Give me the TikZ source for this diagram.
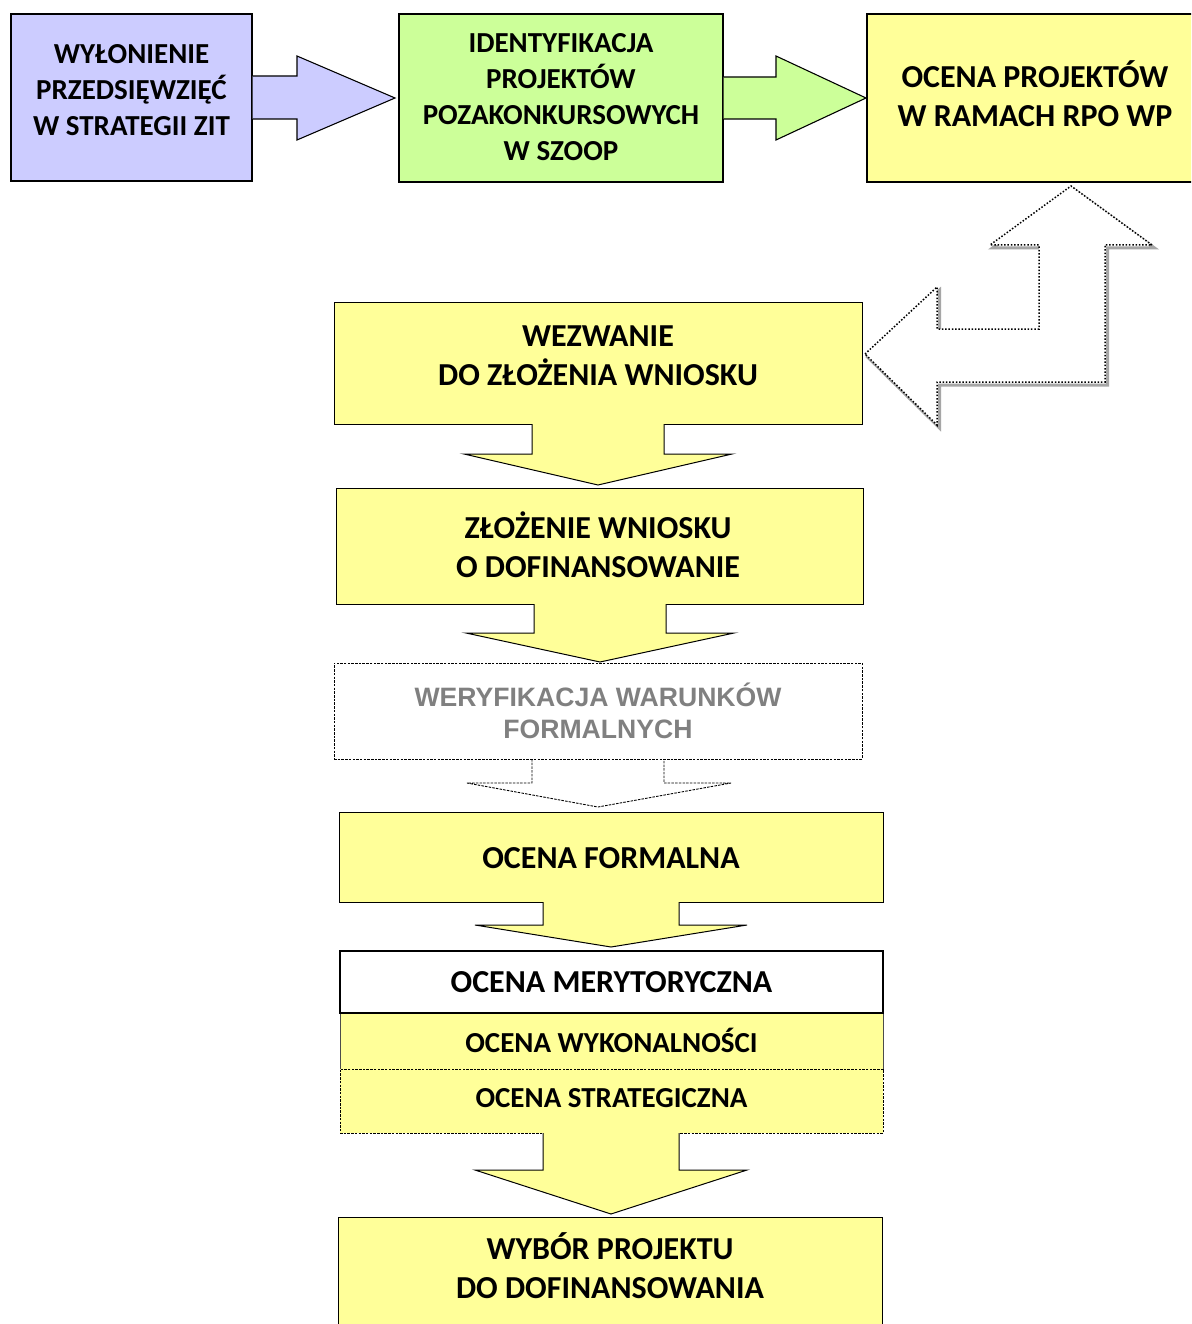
\documentclass[tikz,border=0pt]{standalone}
\usepackage{fontspec}
\setmainfont{Carlito}
\newfontfamily\arialf{Liberation Sans}
\definecolor{cblue}{HTML}{CCCCFF}
\definecolor{cgreen}{HTML}{CCFF99}
\definecolor{cyel}{HTML}{FFFF99}
\definecolor{cgray}{HTML}{808080}
\begin{document}
\begin{tikzpicture}[x=1pt,y=-1pt,
  box/.style={draw=black, line width=1.3pt, inner sep=0pt},
  lbl/.style={font=\bfseries\fontsize{32}{39}\selectfont, align=center, inner sep=0pt},
  lbls/.style={font=\bfseries\fontsize{29}{36}\selectfont, align=center, inner sep=0pt},
  barrow/.style={draw=black, line width=1.1pt, line join=miter},
  dotline/.style={draw=black, line width=1.5pt, dash pattern=on 1.5pt off 1.8pt},
  dashline/.style={draw=black, line width=0.9pt, dash pattern=on 2.5pt off 1.2pt}]
\useasboundingbox (0,0) rectangle (1191,1324);
\clip (0,0) rectangle (1191,1324);
\fill[white] (0,0) rectangle (1191,1324);

% top row boxes
\node[box, fill=cblue, minimum width=241, minimum height=167] (b1) at (131.5,97.5) {};
\node[box, fill=cgreen, minimum width=324, minimum height=168] (b2) at (561,98) {};
\node[box, fill=cyel, minimum width=328, minimum height=168] (b3) at (1031,98) {};

% horizontal block arrows
\draw[barrow, fill=cblue] (b1.east |- 0,76) -- (297,76) -- (297,56) -- (395,98) -- (297,140) -- (297,119) -- (b1.east |- 0,119);
\draw[barrow, fill=cgreen] (b2.east |- 0,77) -- (776,77) -- (776,56) -- (866,98) -- (776,140) -- (776,119) -- (b2.east |- 0,119);

\node[lbls] (t1) at (131.5,90) {WYŁONIENIE\\PRZEDSIĘWZIĘĆ\\W STRATEGII ZIT};
\node[lbls] (t2) at (561,97.5) {IDENTYFIKACJA\\PROJEKTÓW\\POZAKONKURSOWYCH\\W SZOOP};
\node[lbl] (t3) at (1035,94) {OCENA PROJEKTÓW\\W RAMACH RPO WP};

% dotted U-turn arrow with shadow
\def\uturn{(865,354) -- (937,287) -- (937,329) -- (1039,329) -- (1039,245) -- (990,245) -- (1071,186) -- (1152,245) -- (1105,245) -- (1105,382) -- (937,382) -- (937,425) -- cycle}
\draw[gray!70, line width=3pt, shift={(2.5,3)}] \uturn;
\fill[white] \uturn;
\draw[dotline] \uturn;

% vertical column
\node[box, fill=cyel, line width=1pt, minimum width=528, minimum height=122] (b4) at (598,363) {};
\node[box, fill=cyel, line width=1pt, minimum width=527, minimum height=116] (b5) at (599.5,546) {};
\node[dashline, fill=white, inner sep=0pt, minimum width=528, minimum height=96] (b6) at (598,711) {};
\node[box, fill=cyel, line width=1pt, minimum width=544, minimum height=90] (b7) at (611,857) {};
\node[draw=black!70, line width=0.8pt, fill=cyel, inner sep=0pt, minimum width=543, minimum height=56] (b9) at (611.5,1041) {};
\node[dashline, fill=cyel, inner sep=0pt, minimum width=543, minimum height=64] (b10) at (611.5,1101) {};
\node[box, fill=white, line width=2pt, minimum width=543, minimum height=62] (b8) at (611.5,982) {};
\node[box, fill=cyel, line width=1pt, minimum width=544, minimum height=113] (b11) at (610,1273.5) {};

% downward block arrows
\draw[barrow, fill=cyel, line width=1pt] (532,424) -- (532,454) -- (464,454) -- (598,485) -- (732,454) -- (664,454) -- (664,424);
\draw[barrow, fill=cyel, line width=1pt] (534,604) -- (534,633) -- (466,633) -- (600,662) -- (734,633) -- (666,633) -- (666,604);
\draw[dashline] (532,759) -- (532,783) -- (467,783) -- (598,807) -- (731,783) -- (664,783) -- (664,759);
\draw[barrow, fill=cyel, line width=1pt] (543,902) -- (543,925) -- (475,925) -- (611,947) -- (747,925) -- (679,925) -- (679,902);
\draw[barrow, fill=cyel, line width=1pt] (543,1133) -- (543,1170) -- (475,1170) -- (611,1214) -- (747,1170) -- (679,1170) -- (679,1133);

% labels
\node[lbl] (t4) at (598,355.5) {WEZWANIE\\DO ZŁOŻENIA WNIOSKU};
\node[lbl] (t5) at (598,544.5) {ZŁOŻENIE WNIOSKU\\O DOFINANSOWANIE};
\node[font=\arialf\bfseries\fontsize{26.6}{32}\selectfont, text=cgray, align=center, inner sep=0pt] (t6) at (598,710.5) {WERYFIKACJA WARUNKÓW\\FORMALNYCH};
\node[lbl] (t7) at (611,858) {OCENA FORMALNA};
\node[lbl] (t8) at (611.5,982) {OCENA MERYTORYCZNA};
\node[lbls] (t9) at (611.5,1040) {OCENA WYKONALNOŚCI};
\node[lbls] (t10) at (611.5,1098) {OCENA STRATEGICZNA};
\node[lbl] (t11) at (610,1265.5) {WYBÓR PROJEKTU\\DO DOFINANSOWANIA};
\end{tikzpicture}
\end{document}
